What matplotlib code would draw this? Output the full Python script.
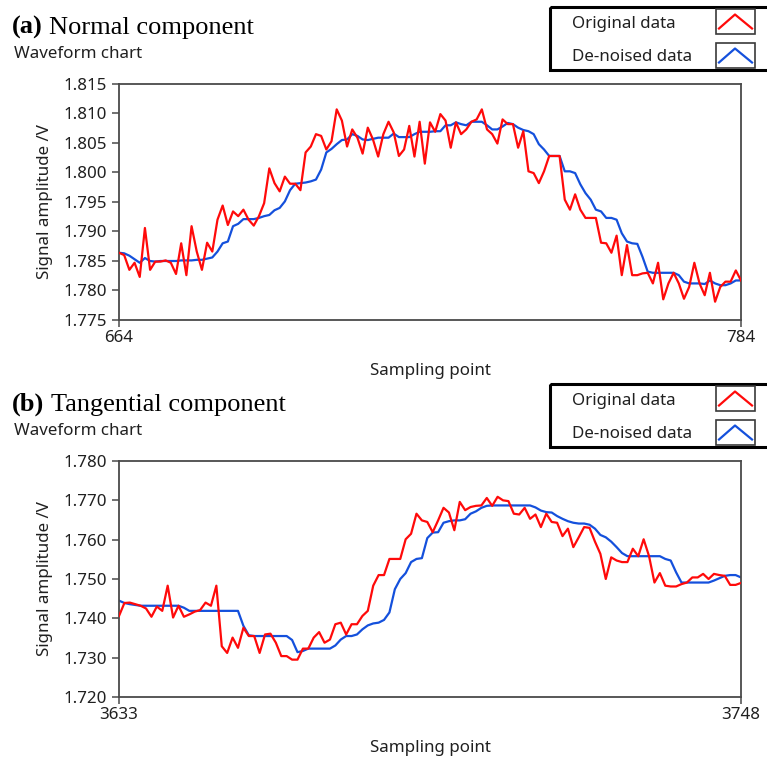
import numpy as np
import matplotlib
matplotlib.use("Agg")
import matplotlib.pyplot as plt
from matplotlib.patches import Rectangle

# (a) normal component, sampling points 664..784
normal_x = np.arange(664, 785)
normal_original = [
    1.7864, 1.7860, 1.7835, 1.7847, 1.7823, 1.7906, 1.7835, 1.7849, 1.7849, 1.7851,
    1.7847, 1.7828, 1.7880, 1.7826, 1.7909, 1.7866, 1.7835, 1.7881, 1.7866, 1.7920,
    1.7944, 1.7911, 1.7934, 1.7926, 1.7937, 1.7920, 1.7910, 1.7926, 1.7948, 1.8007,
    1.7982, 1.7968, 1.7993, 1.7981, 1.7981, 1.7970, 1.8034, 1.8044, 1.8065, 1.8062,
    1.8039, 1.8053, 1.8107, 1.8088, 1.8044, 1.8073, 1.8059, 1.8032, 1.8076, 1.8056,
    1.8027, 1.8065, 1.8086, 1.8068, 1.8028, 1.8039, 1.8079, 1.8027, 1.8086, 1.8015,
    1.8085, 1.8069, 1.8099, 1.8088, 1.8042, 1.8085, 1.8065, 1.8073, 1.8086, 1.8090,
    1.8107, 1.8073, 1.8065, 1.8049, 1.8090, 1.8082, 1.8082, 1.8042, 1.8070, 1.8002,
    1.7999, 1.7982, 1.8002, 1.8028, 1.8028, 1.8028, 1.7954, 1.7937, 1.7963, 1.7937,
    1.7923, 1.7923, 1.7923, 1.7881, 1.7880, 1.7864, 1.7893, 1.7826, 1.7877, 1.7826,
    1.7826, 1.7829, 1.7830, 1.7812, 1.7847, 1.7785, 1.7812, 1.7830, 1.7812, 1.7786,
    1.7806, 1.7847, 1.7812, 1.7792, 1.7830, 1.7781, 1.7806, 1.7815, 1.7815, 1.7834,
    1.7817,
]
normal_denoised = [
    1.7864, 1.7863, 1.7859, 1.7853, 1.7847, 1.7855, 1.7850, 1.7849, 1.7850, 1.7850,
    1.7850, 1.7850, 1.7851, 1.7851, 1.7851, 1.7852, 1.7852, 1.7854, 1.7856, 1.7866,
    1.7880, 1.7883, 1.7909, 1.7913, 1.7921, 1.7921, 1.7921, 1.7923, 1.7926, 1.7928,
    1.7936, 1.7940, 1.7951, 1.7970, 1.7981, 1.7982, 1.7983, 1.7985, 1.7988, 1.8005,
    1.8034, 1.8040, 1.8048, 1.8055, 1.8056, 1.8065, 1.8062, 1.8056, 1.8055, 1.8057,
    1.8059, 1.8059, 1.8059, 1.8066, 1.8060, 1.8060, 1.8060, 1.8065, 1.8069, 1.8069,
    1.8069, 1.8070, 1.8070, 1.8080, 1.8080, 1.8085, 1.8082, 1.8080, 1.8086, 1.8086,
    1.8086, 1.8080, 1.8073, 1.8073, 1.8078, 1.8084, 1.8082, 1.8076, 1.8072, 1.8070,
    1.8065, 1.8048, 1.8039, 1.8028, 1.8028, 1.8028, 1.8002, 1.8002, 1.7999, 1.7980,
    1.7965, 1.7954, 1.7937, 1.7934, 1.7923, 1.7923, 1.7920, 1.7897, 1.7883, 1.7880,
    1.7879, 1.7857, 1.7832, 1.7830, 1.7830, 1.7830, 1.7830, 1.7830, 1.7826, 1.7815,
    1.7812, 1.7812, 1.7812, 1.7811, 1.7817, 1.7812, 1.7809, 1.7809, 1.7812, 1.7817,
    1.7817,
]

# (b) tangential component, sampling points 3633..3748
tangential_x = np.arange(3633, 3749)
tangential_original = [
    1.7406, 1.7439, 1.7440, 1.7436, 1.7432, 1.7425, 1.7404, 1.7430, 1.7419, 1.7483,
    1.7402, 1.7432, 1.7404, 1.7410, 1.7417, 1.7421, 1.7440, 1.7432, 1.7483, 1.7329,
    1.7312, 1.7351, 1.7325, 1.7376, 1.7355, 1.7355, 1.7312, 1.7359, 1.7361, 1.7338,
    1.7304, 1.7304, 1.7295, 1.7295, 1.7323, 1.7323, 1.7351, 1.7365, 1.7338, 1.7346,
    1.7385, 1.7389, 1.7359, 1.7385, 1.7385, 1.7406, 1.7419, 1.7483, 1.7510, 1.7510,
    1.7551, 1.7551, 1.7551, 1.7601, 1.7615, 1.7666, 1.7649, 1.7645, 1.7619, 1.7649,
    1.7681, 1.7669, 1.7624, 1.7696, 1.7675, 1.7683, 1.7686, 1.7687, 1.7706, 1.7686,
    1.7709, 1.7700, 1.7698, 1.7666, 1.7664, 1.7681, 1.7653, 1.7664, 1.7632, 1.7666,
    1.7645, 1.7643, 1.7609, 1.7628, 1.7581, 1.7606, 1.7632, 1.7630, 1.7595, 1.7564,
    1.7500, 1.7555, 1.7547, 1.7543, 1.7543, 1.7577, 1.7558, 1.7601, 1.7558, 1.7491,
    1.7515, 1.7483, 1.7481, 1.7481, 1.7487, 1.7491, 1.7504, 1.7504, 1.7513, 1.7500,
    1.7513, 1.7510, 1.7508, 1.7485, 1.7485, 1.7490,
]
tangential_denoised = [
    1.7445, 1.7439, 1.7436, 1.7434, 1.7432, 1.7432, 1.7432, 1.7432, 1.7432, 1.7432,
    1.7432, 1.7432, 1.7427, 1.7419, 1.7419, 1.7419, 1.7419, 1.7419, 1.7419, 1.7419,
    1.7419, 1.7419, 1.7419, 1.7381, 1.7357, 1.7355, 1.7355, 1.7355, 1.7355, 1.7355,
    1.7355, 1.7355, 1.7345, 1.7314, 1.7317, 1.7323, 1.7323, 1.7323, 1.7323, 1.7323,
    1.7331, 1.7346, 1.7355, 1.7355, 1.7359, 1.7372, 1.7382, 1.7387, 1.7389, 1.7396,
    1.7415, 1.7474, 1.7500, 1.7515, 1.7543, 1.7551, 1.7553, 1.7604, 1.7618, 1.7619,
    1.7643, 1.7647, 1.7649, 1.7649, 1.7652, 1.7666, 1.7672, 1.7681, 1.7686, 1.7687,
    1.7687, 1.7687, 1.7687, 1.7687, 1.7687, 1.7687, 1.7687, 1.7682, 1.7674, 1.7670,
    1.7669, 1.7660, 1.7653, 1.7647, 1.7643, 1.7641, 1.7641, 1.7638, 1.7628, 1.7612,
    1.7606, 1.7595, 1.7581, 1.7566, 1.7558, 1.7558, 1.7558, 1.7558, 1.7558, 1.7558,
    1.7558, 1.7551, 1.7547, 1.7517, 1.7491, 1.7491, 1.7491, 1.7491, 1.7491, 1.7491,
    1.7496, 1.7502, 1.7508, 1.7510, 1.7510, 1.7504,
]

normal_yticks = [1.775, 1.780, 1.785, 1.790, 1.795, 1.800, 1.805, 1.810, 1.815]
tangential_yticks = [1.720, 1.730, 1.740, 1.750, 1.760, 1.770, 1.780]
legend_labels = ["Original data", "De-noised data"]

RED = "#ff0a0a"
BLUE = "#1450dc"
TXT = "#202020"
SANS = "Noto Sans"
FS = 12.2
W, H = 767, 757


def px(x, y):
    # pixel position (from top-left) -> figure fraction
    return x / W, 1 - y / H


def panel(fig, top, xs, orig, den, yticks, tag, name, name_x):
    l, b = px(119, top + 236)
    ax = fig.add_axes([l, b, 622 / W, 236 / H])
    ax.plot(xs, orig, color=RED, lw=1.6, zorder=3)
    ax.plot(xs, den, color=BLUE, lw=1.6, zorder=2)
    ax.set_xlim(xs[0], xs[-1])
    ax.set_ylim(yticks[0], yticks[-1])
    ax.set_xticks([xs[0], xs[-1]])
    ax.set_yticks(yticks)
    ax.set_yticklabels(["%.3f" % v for v in yticks])
    for s in ax.spines.values():
        s.set_color("#4a4a4a")
        s.set_linewidth(1.3)
    ax.tick_params(axis="y", length=5, width=1.1, color="#4a4a4a", pad=3.5,
                   labelsize=FS, labelcolor=TXT)
    ax.tick_params(axis="x", length=5, width=1.1, color="#4a4a4a", pad=2.5,
                   labelsize=FS, labelcolor=TXT)
    for t in ax.get_xticklabels() + ax.get_yticklabels():
        t.set_family(SANS)

    # titles
    x0, y0 = px(12, top - 50)
    fig.text(x0, y0, "(" + tag + ")", family="Liberation Serif", weight="bold",
             fontsize=19, color="black", va="baseline")
    x1, _ = px(name_x, 0)
    fig.text(x1, y0, name, family="Liberation Serif", fontsize=19,
             color="black", va="baseline")
    x2, y2 = px(14, top - 30)
    fig.text(x2, y2, "Waveform chart", family=SANS, fontsize=FS, color=TXT,
             va="center")
    x3, y3 = px(45, top + 118)
    fig.text(x3, y3, "Signal amplitude /V", family=SANS, fontsize=FS,
             color=TXT, rotation=90, ha="center", va="center")
    x4, y4 = px(430, top + 287)
    fig.text(x4, y4, "Sampling point", family=SANS, fontsize=FS, color=TXT,
             ha="center", va="center")

    # legend box
    lx, ly = px(550, top - 14)
    lg = fig.add_axes([lx, ly, 240 / W, 63 / H])
    lg.set_xlim(550, 790)
    lg.set_ylim(top - 14, top - 77)
    lg.axis("off")
    lg.add_patch(Rectangle((550, top - 77), 240, 63, fill=False,
                           ec="black", lw=2.2, clip_on=False))
    for k, (lab, col) in enumerate(zip(legend_labels, [RED, BLUE])):
        yt = top - 60 + 33 * k
        yb = top - 62.5 + 34 * k
        lg.text(572, yt, lab, family=SANS, fontsize=FS, color=TXT,
                va="center")
        lg.add_patch(Rectangle((716, yb - 12.5), 39, 25, fill=False,
                               ec="#3a3a3a", lw=1.2))
        lg.plot([719, 735, 752], [yb + 7, yb - 7, yb + 7], color=col, lw=1.6)
    return ax


fig = plt.figure(figsize=(W / 100, H / 100), dpi=100)
panel(fig, 84, normal_x, normal_original, normal_denoised, normal_yticks,
      "a", "Normal component", 49)
panel(fig, 461, tangential_x, tangential_original, tangential_denoised,
      tangential_yticks, "b", "Tangential component", 51)
fig.savefig("out.png", dpi=100)
